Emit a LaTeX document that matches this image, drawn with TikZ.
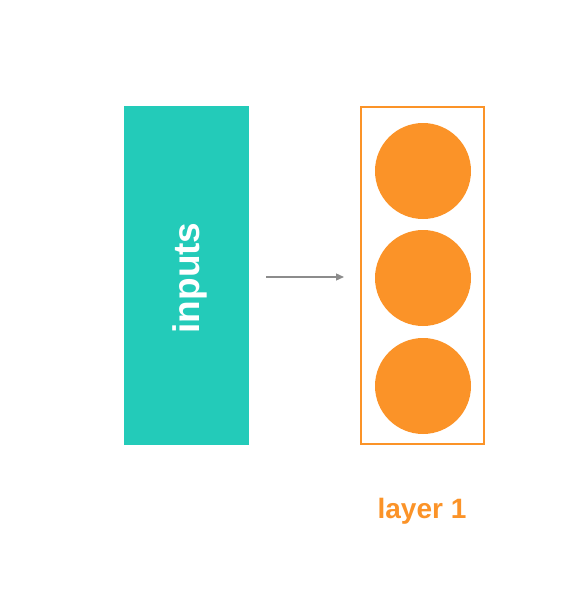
\documentclass[tikz,border=0pt]{standalone}
\usepackage{fontspec}
\setmainfont{Liberation Sans}
\usetikzlibrary{arrows.meta}
\definecolor{teal1}{HTML}{23CBB9}
\definecolor{orng}{HTML}{FB9328}
\definecolor{arrgray}{HTML}{8C8C8C}
\tikzset{
  inbox/.style={fill=teal1, draw=none, minimum width=125pt, minimum height=339pt, inner sep=0pt},
  layerbox/.style={draw=orng, line width=2pt, minimum width=123pt, minimum height=337pt, inner sep=0pt},
  neuron/.style={circle, fill=orng, draw=none, minimum size=96pt, inner sep=0pt},
  conn/.style={draw=arrgray, line width=1.3pt, -{Triangle[length=8pt,width=7pt]}},
  lbl/.style={text=orng, font=\bfseries\fontsize{28}{32}\selectfont}
}
\begin{document}
\begin{tikzpicture}[x=1pt,y=-1pt]
\useasboundingbox (0,0) rectangle (561,598);
\node[inbox] (in) at (186.5,275.5) {};
\node[rotate=90, text=white, font=\bfseries\fontsize{37}{40}\selectfont] (intext) at (189.5,278) {inputs};
\node[layerbox] (layer) at (422.5,275.5) {};
\node[neuron] (n1) at (423,171) {};
\node[neuron] (n2) at (423,278) {};
\node[neuron] (n3) at (423,386) {};
\coordinate (a0) at (266,277);
\coordinate (a1) at (344,277);
\draw[conn] (a0) -- (a1);
\node[lbl] (l1) at (422,511) {layer 1};
\end{tikzpicture}
\end{document}
